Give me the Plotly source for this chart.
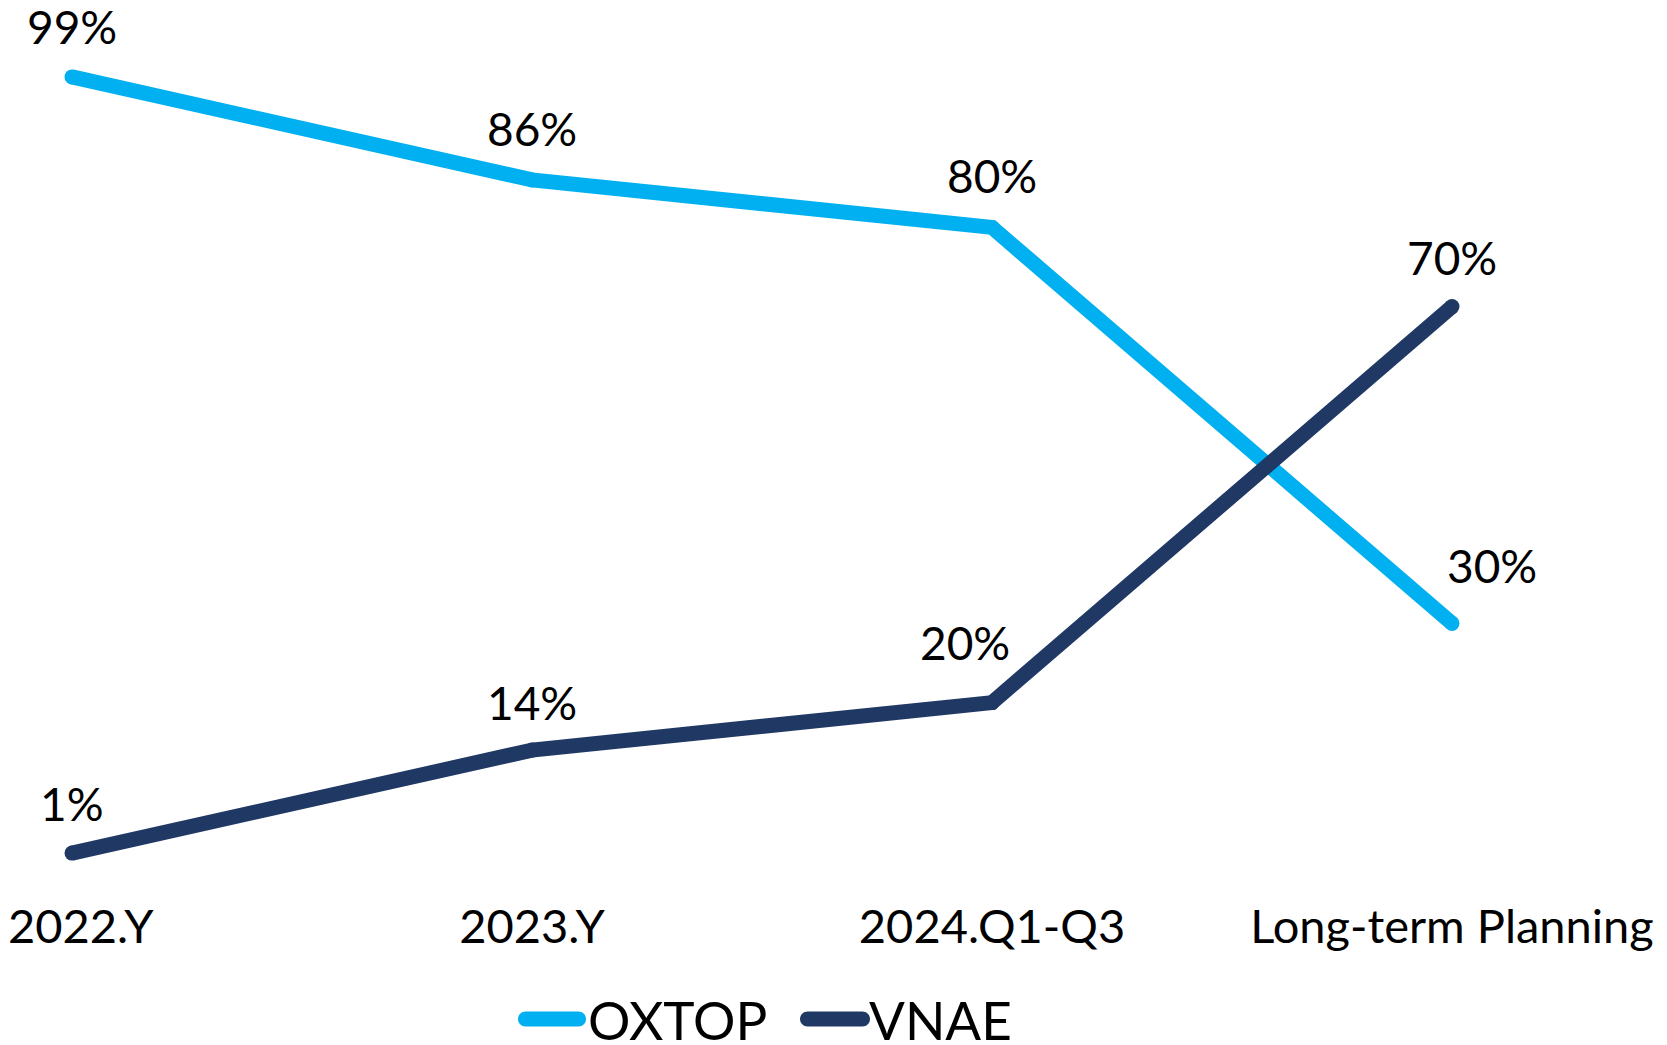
import plotly.graph_objects as go

categories = ["2022.Y", "2023.Y", "2024.Q1-Q3", "Long-term Planning"]
oxtop = [99, 86, 80, 30]
vnae = [1, 14, 20, 70]
oxtop_labels = ["99%", "86%", "80%", "30%"]
vnae_labels = ["1%", "14%", "20%", "70%"]

C_OX = "#00B0F0"
C_VN = "#203864"
FONT = "Lato"

W, H = 1667, 1045
PAGE = 8            # browser body margin offset
plot_bottom = 861 - PAGE
px_per = 7.92
x0_px = 72 - PAGE
step = 460

fig = go.Figure()
for name, vals, col in [("OXTOP", oxtop, C_OX), ("VNAE", vnae, C_VN)]:
    fig.add_trace(go.Scatter(
        x=list(range(len(categories))), y=vals, name=name, mode="lines+markers",
        line=dict(color=col, width=15),
        marker=dict(color=col, size=15, line=dict(width=0)),
        showlegend=False, hoverinfo="skip",
    ))

# data labels (pixel offsets)
ox_off = [(0, 50), (0, 51), (0, 52), (40, 58)]
vn_off = [(0, 50), (0, 48), (-27, 60), (0, 49)]
for vals, labs, offs in [(oxtop, oxtop_labels, ox_off), (vnae, vnae_labels, vn_off)]:
    for i, (v, t) in enumerate(zip(vals, labs)):
        fig.add_annotation(x=i, y=v, xref="x", yref="y", text=t, showarrow=False,
                           xshift=offs[i][0], yshift=offs[i][1],
                           font=dict(family=FONT, size=46, color="#000000"))

# manual legend (figure pixel coords)
legend_items = [("OXTOP", C_OX, 510, 578, 578), ("VNAE", C_VN, 792, 862, 859)]
yc = 1011
ypaper = (plot_bottom - yc) / plot_bottom
for name, col, a, b, tx in legend_items:
    r = 7.5
    k = r * 0.55
    path = (f"M{a + r},{-r} L{b - r},{-r} C{b - r + k},{-r} {b},{-k} {b},0 "
            f"C{b},{k} {b - r + k},{r} {b - r},{r} L{a + r},{r} "
            f"C{a + r - k},{r} {a},{k} {a},0 C{a},{-k} {a + r - k},{-r} {a + r},{-r} Z")
    fig.add_shape(type="path", xref="paper", yref="paper", xsizemode="pixel", ysizemode="pixel",
                  xanchor=0, yanchor=ypaper, path=path,
                  fillcolor=col, line=dict(width=0))
    fig.add_annotation(xref="paper", yref="paper", x=tx / W, y=ypaper, xanchor="left",
                       yanchor="middle", text=name, showarrow=False,
                       font=dict(family=FONT, size=53, color="#000000"))

# first tick label nudged right (as in the reference) so it stays inside the page
tick_text = ["\u2009\u2009\u2009" + categories[0]] + categories[1:]

fig.update_layout(
    width=W, height=H,
    margin=dict(l=0, r=0, t=0, b=H - plot_bottom),
    paper_bgcolor="white", plot_bgcolor="white",
    xaxis=dict(tickmode="array", tickvals=list(range(len(categories))), ticktext=tick_text,
               range=[-x0_px / step, (W - x0_px) / step], showgrid=False, zeroline=False,
               showline=False, ticks="", ticklabelstandoff=34, automargin=False,
               ticklabeloverflow="allow",
               tickfont=dict(family=FONT, size=47, color="#000000")),
    yaxis=dict(range=[0, plot_bottom / px_per], visible=False),
    font=dict(family=FONT),
)
fig.write_html("out.html")
